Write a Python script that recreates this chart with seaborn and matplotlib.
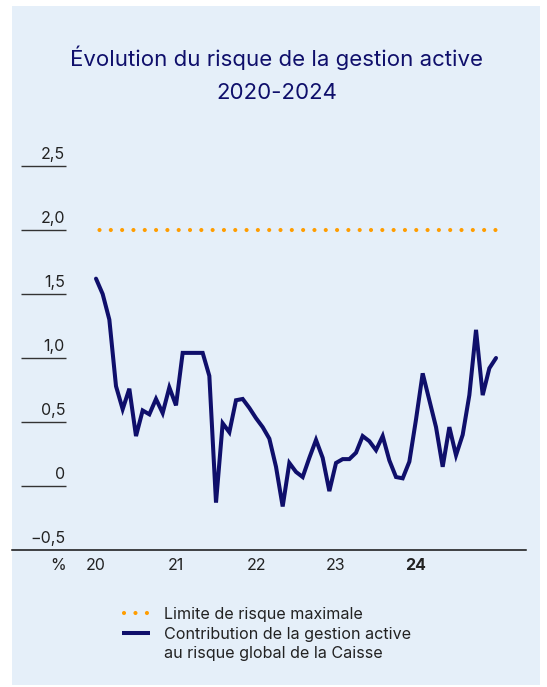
import numpy as np
import pandas as pd
import matplotlib
matplotlib.use("Agg")
import matplotlib.pyplot as plt
from matplotlib.patches import Rectangle
from matplotlib.lines import Line2D
import seaborn as sns

# ---- data ----
months = list(range(61))  # monthly, Jan 2020 .. Jan 2025
contribution = [1.62, 1.50, 1.30, 0.78, 0.60, 0.76, 0.39, 0.59, 0.56, 0.68,
                0.57, 0.77, 0.63, 1.04, 1.04, 1.04, 1.04, 0.86, -0.13, 0.49,
                0.42, 0.67, 0.68, 0.61, 0.53, 0.46, 0.37, 0.15, -0.16, 0.18,
                0.11, 0.07, 0.22, 0.36, 0.22, -0.04, 0.18, 0.21, 0.21, 0.26,
                0.39, 0.35, 0.28, 0.39, 0.20, 0.07, 0.06, 0.19, 0.52, 0.88,
                0.67, 0.46, 0.15, 0.46, 0.24, 0.40, 0.71, 1.22, 0.71, 0.92, 1.00]
limit = [2.0] * len(months)
year_ticks = [0, 12, 24, 36, 48]
year_labels = ["20", "21", "22", "23", "24"]
y_ticks = [2.5, 2.0, 1.5, 1.0, 0.5, 0.0]
y_labels = ["2,5", "2,0", "1,5", "1,0", "0,5", "0"]

title = "Évolution du risque de la gestion active\n2020-2024"
legend_labels = ["Limite de risque maximale",
                 "Contribution de la gestion active\nau risque global de la Caisse"]

NAVY = "#0f0f6b"
ORANGE = "#ff9d00"
BG = "#e5eff9"
TXT = "#222222"

sns.set_theme(style="white")
plt.rcParams["font.family"] = ["Inter", "DejaVu Sans"]

W, H = 547, 687
fig = plt.figure(figsize=(W / 100, H / 100), dpi=100)
fig.patch.set_facecolor("white")
fig.patches.append(Rectangle((12 / W, 1 - 685 / H), (540 - 12) / W, (685 - 6) / H,
                             transform=fig.transFigure, facecolor=BG,
                             edgecolor="none", zorder=-10))

# axes placement (pixels)
ax_left, ax_right, ax_bottom, ax_top = 12, 526, 550, 153.2
ax = fig.add_axes([ax_left / W, 1 - ax_bottom / H, (ax_right - ax_left) / W,
                   (ax_bottom - ax_top) / H])
ax.set_facecolor("none")
ax.set_zorder(5)

px_per_month = 6.667
x0 = 96
xmin = (ax_left - x0) / px_per_month
xmax = (ax_right - x0) / px_per_month
ax.set_xlim(xmin, xmax)
ax.set_ylim(-0.5, 2.6)

df = pd.DataFrame({"month": months, "value": contribution, "limit": limit})
sns.lineplot(data=df, x="month", y="limit", ax=ax, color=ORANGE, lw=3.0,
             linestyle=(1.874, (0.001, 2.714)))
ax.lines[-1].set_dash_capstyle("round")
sns.lineplot(data=df, x="month", y="value", ax=ax, color=NAVY, lw=2.9)
ax.lines[-1].set_solid_capstyle("round")
ax.lines[-1].set_solid_joinstyle("miter")

for s in ["top", "right", "left"]:
    ax.spines[s].set_visible(False)
ax.spines["bottom"].set_color("#111111")
ax.spines["bottom"].set_linewidth(1.1)
ax.set_xticks([])
ax.set_yticks([])
ax.set_xlabel("")
ax.set_ylabel("")
ax.set_xlim(xmin, xmax)
ax.set_ylim(-0.5, 2.6)

# y tick labels with underlines
u0 = (21 - x0) / px_per_month
u1 = (66 - x0) / px_per_month
lab_x = (65 - x0) / px_per_month
for v, lab in zip(y_ticks, y_labels):
    ax.plot([u0, u1], [v, v], color="#333333", lw=1.0, solid_capstyle="butt")
    ax.text(lab_x, v + 0.035, lab, ha="right", va="bottom", fontsize=11.5,
            color=TXT)
ax.text(lab_x, -0.5 + 0.035, "\u22120,5", ha="right", va="bottom",
        fontsize=11.5, color=TXT)

# x labels
for t, lab in zip(year_ticks, year_labels):
    ax.text(t, -0.56, lab, ha="center", va="top", fontsize=11.5, color=TXT,
            fontweight="bold" if lab == "24" else "normal", clip_on=False)
ax.text((58 - x0) / px_per_month, -0.56, "%", ha="center", va="top",
        fontsize=11.5, color=TXT, clip_on=False)

# title
fig.text(277 / W, 1 - 74 / H, title, ha="center", va="center", fontsize=16,
         color=NAVY, linespacing=1.8)

# legend (manual)
fig.lines.append(Line2D([124 / W, 148 / W], [1 - 613 / H] * 2,
                        transform=fig.transFigure, color=ORANGE, lw=3.0,
                        linestyle=(0, (0.001, 2.75)), dash_capstyle="round"))
fig.lines.append(Line2D([122 / W, 150 / W], [1 - 633 / H] * 2,
                        transform=fig.transFigure, color=NAVY, lw=2.9,
                        solid_capstyle="butt"))
fig.text(164 / W, 1 - 614 / H, legend_labels[0], ha="left", va="center",
         fontsize=11.6, color=TXT)
fig.text(164 / W, 1 - 644 / H, legend_labels[1], ha="left", va="center",
         fontsize=11.6, color=TXT, linespacing=1.3)

fig.savefig("out.png", dpi=100)
